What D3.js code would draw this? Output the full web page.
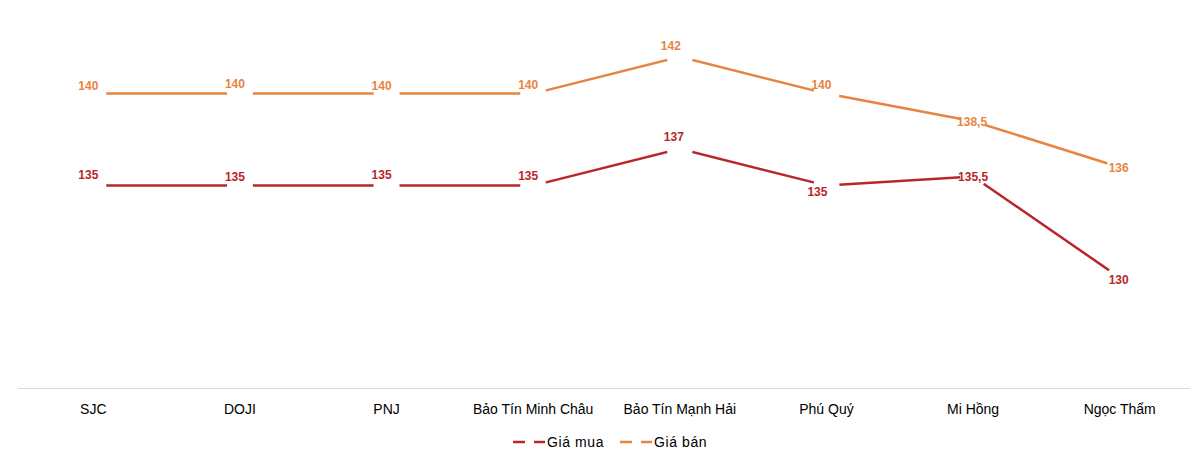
<!DOCTYPE html>
<html>
<head>
<meta charset="utf-8">
<title>Giá mua - Giá bán</title>
<script src="https://cdn.jsdelivr.net/npm/d3@7"></script>
<style>
  html, body { margin: 0; padding: 0; background: #fff; }
  svg { display: block; }
  .cat { font-family: "Liberation Sans", Arial, sans-serif; font-size: 14px; fill: #000; }
  .lbl { font-family: "Liberation Sans", Arial, sans-serif; font-size: 12px; font-weight: bold; }
  .leg { font-family: "Liberation Sans", Arial, sans-serif; font-size: 14px; letter-spacing: 0.6px; fill: #000; }
</style>
</head>
<body>
<svg id="chart" width="1200" height="456"></svg>
<script>
// data
var categories = ["SJC", "DOJI", "PNJ", "Bảo Tín Minh Châu", "Bảo Tín Mạnh Hải", "Phú Quý", "Mi Hồng", "Ngọc Thẩm"];
var giaMua = [135, 135, 135, 135, 137, 135, 135.5, 130];
var giaBan = [140, 140, 140, 140, 142, 140, 138.5, 136];

// label nudges (px) relative to the point, as placed in the original
var muaLabelShift = [[-5,-11],[-5,-9],[-5,-11],[-5,-10],[-6,-12],[-9,6],[0,1],[-1,2]];
var banLabelShift = [[-5,-8],[-5,-10],[-5,-8],[-5,-9],[-9,-11],[-5,-9],[-1,1],[-1,1]];

var series = [
  { name: "Giá mua", values: giaMua, color: "#B8262A", shift: muaLabelShift },
  { name: "Giá bán", values: giaBan, color: "#E8843F", shift: banLabelShift }
];

var svg = d3.select("#chart");

var x = d3.scaleBand().domain(categories).range([20, 1193]).padding(0);
var y = d3.scaleLinear().domain([124, 144]).range([388, 20]);
var cx = function(i) { return x(categories[i]) + x.bandwidth() / 2; };

// category axis
svg.append("line")
  .attr("x1", 18).attr("x2", 1190)
  .attr("y1", y(124) + 0.5).attr("y2", y(124) + 0.5)
  .attr("stroke", "#d9d9d9").attr("stroke-width", 1);

svg.selectAll("text.cat").data(categories).enter()
  .append("text").attr("class", "cat")
  .attr("x", function(d, i) { return cx(i); })
  .attr("y", 414)
  .attr("text-anchor", "middle")
  .text(function(d) { return d; });

var fmt = function(v) { return String(v).replace(".", ","); };
var line = d3.line().x(function(d, i) { return cx(i); }).y(function(d) { return y(d); });

// lines
series.forEach(function(s) {
  svg.append("path")
    .attr("d", line(s.values))
    .attr("fill", "none")
    .attr("stroke", s.color)
    .attr("stroke-width", 2.5);
});

// white markers that cut the line around each point
series.forEach(function(s) {
  svg.append("g").selectAll("circle").data(s.values).enter()
    .append("circle")
    .attr("cx", function(d, i) { return cx(i); })
    .attr("cy", function(d) { return y(d); })
    .attr("r", 13)
    .attr("fill", "#fff");
});

// data labels
series.forEach(function(s) {
  svg.append("g").selectAll("text").data(s.values).enter()
    .append("text").attr("class", "lbl")
    .attr("x", function(d, i) { return cx(i) + s.shift[i][0]; })
    .attr("y", function(d, i) { return y(d) + s.shift[i][1]; })
    .attr("text-anchor", "middle")
    .attr("dominant-baseline", "central")
    .attr("fill", s.color)
    .text(fmt);
});

// legend
var legX = [513, 620];
series.forEach(function(s, k) {
  var g = svg.append("g").attr("transform", "translate(" + legX[k] + ",442)");
  g.append("line").attr("x1", 0).attr("x2", 12).attr("y1", 0).attr("y2", 0)
    .attr("stroke", s.color).attr("stroke-width", 2.5);
  g.append("line").attr("x1", 21).attr("x2", 32).attr("y1", 0).attr("y2", 0)
    .attr("stroke", s.color).attr("stroke-width", 2.5);
  g.append("text").attr("class", "leg")
    .attr("x", 34).attr("y", 0)
    .attr("dominant-baseline", "central")
    .text(s.name);
});
</script>
</body>
</html>
